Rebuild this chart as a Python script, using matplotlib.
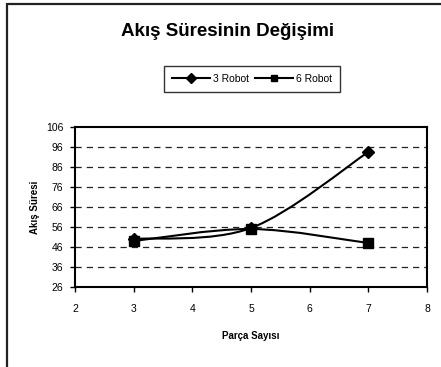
import numpy as np
import matplotlib
matplotlib.use("Agg")
import matplotlib.pyplot as plt
from matplotlib.path import Path
from matplotlib.patches import PathPatch, Rectangle
from matplotlib.lines import Line2D

plt.rcParams['font.family'] = ['Liberation Sans', 'DejaVu Sans']

# Akış süresi değerleri
parca_sayisi = [3, 5, 7]
robot3 = [50, 55.5, 93.5]
robot6 = [49, 55, 48]
series_names = ['3 Robot', '6 Robot']
y_ticks = [26, 36, 46, 56, 66, 76, 86, 96, 106]
x_ticks = [2, 3, 4, 5, 6, 7, 8]


def smooth_path(xs, ys):
    # Excel-style smoothed line: cubic Bezier segments through every point
    pts = np.column_stack([xs, ys]).astype(float)
    n = len(pts)
    verts = [pts[0]]
    codes = [Path.MOVETO]
    for i in range(n - 1):
        p0 = pts[i - 1] if i > 0 else pts[i]
        p1 = pts[i]
        p2 = pts[i + 1]
        p3 = pts[i + 2] if i + 2 < n else pts[i + 1]
        c1 = p1 + (p2 - p0) / 6.0
        c2 = p2 - (p3 - p1) / 6.0
        verts += [c1, c2, p2]
        codes += [Path.CURVE4] * 3
    return Path(verts, codes)


fig = plt.figure(figsize=(4.41, 3.67), dpi=100)
ax = fig.add_axes([75 / 441, 1 - 287 / 367, 352 / 441, 160 / 367])

# chart area frame (right and bottom edges run off the canvas)
fig.patches.append(Rectangle((7 / 441, -0.1), 1.2, 1 - 4.5 / 367 + 0.1,
                             transform=fig.transFigure, fill=False,
                             edgecolor='#222222', linewidth=1.6))

for ys, marker, ms in [(robot3, 'D', 6.5), (robot6, 's', 6.5)]:
    ax.add_patch(PathPatch(smooth_path(parca_sayisi, ys), facecolor='none',
                           edgecolor='black', linewidth=1.5, zorder=3))
    ax.plot(parca_sayisi, ys, linestyle='none', marker=marker, markersize=ms,
            color='black', zorder=4)

ax.set_xlim(2, 8)
ax.set_ylim(26, 106)
ax.set_xticks(x_ticks)
ax.set_yticks(y_ticks)
ax.tick_params(direction='out', length=3.5, width=1, labelsize=7.5)
ax.tick_params(axis='x', pad=9)
ax.tick_params(axis='y', pad=5)
for t in y_ticks[1:-1]:
    ax.axhline(t, color='#222222', linewidth=0.9, dashes=(5, 4), zorder=1)
for s in ax.spines.values():
    s.set_linewidth(1.5)

ax.set_xlabel('Parça Sayısı', fontsize=7, fontweight='bold', labelpad=12)
ax.set_ylabel('Akış Süresi', fontsize=7, fontweight='bold', labelpad=4)

fig.text(0.515, 1 - 32 / 367, 'Akış Süresinin Değişimi', ha='center',
         va='center', fontsize=13.5, fontweight='bold')

handles = [Line2D([], [], color='black', linewidth=1.5, marker='D', markersize=5),
           Line2D([], [], color='black', linewidth=1.5, marker='s', markersize=5)]
leg = fig.legend(handles, series_names, loc='center',
                 bbox_to_anchor=(252 / 441, 1 - 79 / 367), ncol=2,
                 fontsize=7.5, frameon=True, fancybox=False, handlelength=3.6,
                 handletextpad=0.3, columnspacing=0.6, borderpad=0.8)
leg.get_frame().set_edgecolor('black')
leg.get_frame().set_linewidth(1.0)

fig.savefig('out.png', dpi=100)
